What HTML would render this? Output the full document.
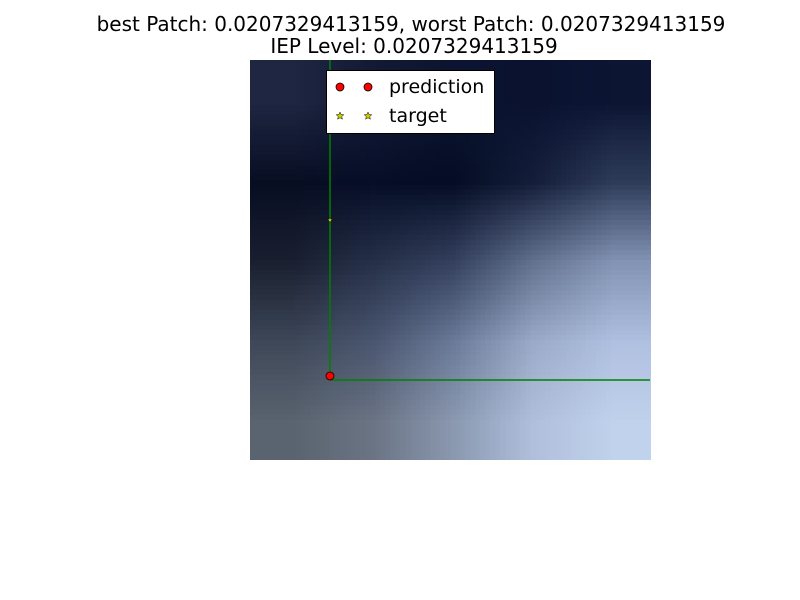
<!DOCTYPE html>
<html><head><meta charset="utf-8"><style>
body{margin:0;background:#fff;width:800px;height:600px;overflow:hidden;font-family:"Liberation Sans","DejaVu Sans",sans-serif;}
#wrap{position:relative;width:800px;height:600px;}
.t{position:absolute;left:0;width:822px;text-align:center;font-family:"DejaVu Sans","Liberation Sans",sans-serif;font-size:20px;color:#000;}
#heat{position:absolute;left:250px;top:60px;width:401px;height:400px;}
svg{position:absolute;left:0;top:0;}
</style></head><body>
<div id="wrap">
<div class="t" style="top:12px">best Patch: 0.0207329413159, worst Patch: 0.0207329413159</div>
<div class="t" style="top:34px;width:828px">IEP Level: 0.0207329413159</div>
<canvas id="heat" width="5" height="5"></canvas>
<svg id="ov" width="800" height="600"></svg>
</div>
<script>
const gridColors = [
 ["#1e2642","#121a36","#0c1530","#0a1230","#0c1633"],
 ["#080e22","#060e28","#050d24","#141e3a","#2e3c5a"],
 ["#1a2030","#263048","#34405e","#62728f","#8494b4"],
 ["#3e4858","#4a5670","#6a7a98","#9aaac8","#b0c0e0"],
 ["#5a6470","#6a7484","#8a98b0","#b0c0dc","#c0d2ec"]
];
const prediction = [80, 316];
const target = [80, 160];
const vLine = {x:80, y0:0, y1:316};
const hLine = {y:320, x0:80, x1:400};

const c = document.getElementById('heat').getContext('2d');
gridColors.forEach((row,i)=>row.forEach((col,j)=>{c.fillStyle=col;c.fillRect(j,i,1,1);}));

const X = v => 250 + v, Y = v => 60 + v;
const NS='http://www.w3.org/2000/svg', svg=document.getElementById('ov');
function mk(tag, attrs){const e=document.createElementNS(NS,tag);for(const k in attrs)e.setAttribute(k,attrs[k]);svg.appendChild(e);return e;}
let e;
e=mk('line',{x1:X(vLine.x),y1:Y(vLine.y0),x2:X(vLine.x),y2:Y(vLine.y1),stroke:'#008000','stroke-width':1.5});


e=mk('line',{x1:X(hLine.x0),y1:Y(hLine.y),x2:X(hLine.x1),y2:Y(hLine.y),stroke:'#008000','stroke-width':1.5});


function star(cx,cy,r){let p=[];for(let i=0;i<10;i++){const a=-Math.PI/2+i*Math.PI/5,rr=i%2?r*0.45:r;p.push((cx+rr*Math.cos(a)).toFixed(1)+','+(cy+rr*Math.sin(a)).toFixed(1));}return p.join(' ');}
e=mk('polygon',{points:star(X(target[0]),Y(target[1]),2.5),fill:'#cccc00',stroke:'#000','stroke-width':0.3});


e=mk('circle',{cx:X(prediction[0]),cy:Y(prediction[1]),r:4,fill:'#ff0000',stroke:'#000','stroke-width':0.8});


e=mk('rect',{x:326.5,y:70.5,width:168,height:63,fill:'#fff',stroke:'#000','stroke-width':1});


[[340,87],[368,87]].forEach(p=>{e=mk('circle',{cx:p[0],cy:p[1],r:4,fill:'#ff0000',stroke:'#000','stroke-width':0.8});});
[[340,116],[368,116]].forEach(p=>{e=mk('polygon',{points:star(p[0],p[1],4),fill:'#cccc00',stroke:'#000','stroke-width':0.5});});
e=mk('text',{x:389,y:93,'font-size':19,'font-family':'DejaVu Sans, Liberation Sans, sans-serif'});e.textContent='prediction';


e=mk('text',{x:389,y:122,'font-size':19,'font-family':'DejaVu Sans, Liberation Sans, sans-serif'});e.textContent='target';


</script>
</body></html>
